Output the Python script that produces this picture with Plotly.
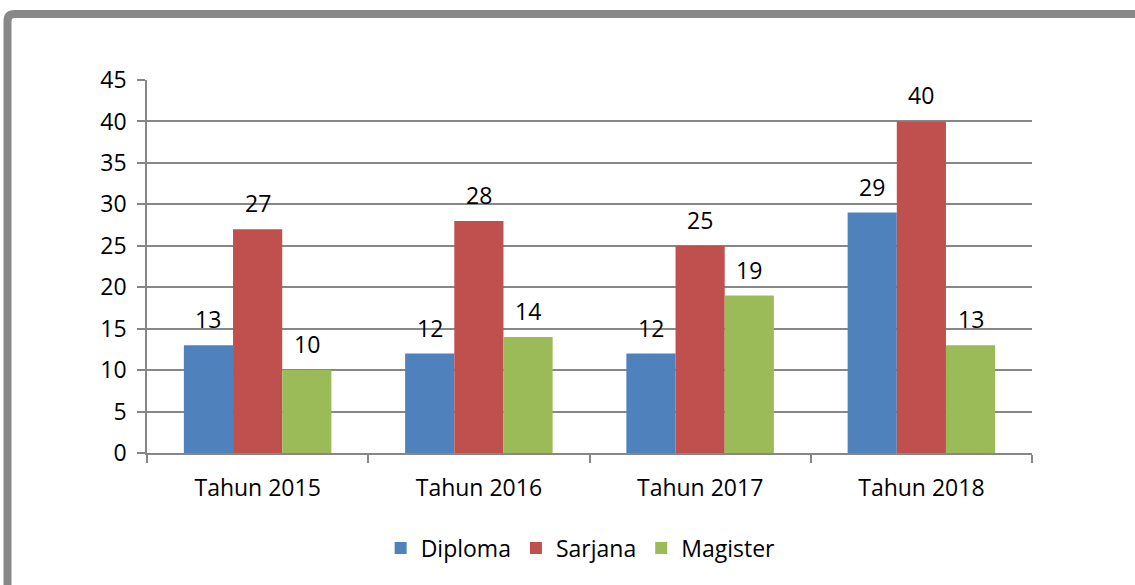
import plotly.graph_objects as go

categories = ["Tahun 2015", "Tahun 2016", "Tahun 2017", "Tahun 2018"]
diploma = [13, 12, 12, 29]
sarjana = [27, 28, 25, 40]
magister = [10, 14, 19, 13]
y_ticks = [0, 5, 10, 15, 20, 25, 30, 35, 40, 45]

series = [
    ("Diploma", diploma, "#4F81BD"),
    ("Sarjana", sarjana, "#C0504D"),
    ("Magister", magister, "#9BBB59"),
]

FONT = "Open Sans, Lato, sans-serif"
FS = 23
GRID = "#878787"
BARGAP = 1 / 3

fig = go.Figure()
n = len(series)
bar_w = (1 - BARGAP) / n
annotations = []
for i, (name, vals, col) in enumerate(series):
    fig.add_trace(go.Bar(
        name=name, x=categories, y=vals,
        marker=dict(color=col, line=dict(width=0)),
    ))
    offset = (i - (n - 1) / 2) * bar_w
    for j, v in enumerate(vals):
        annotations.append(dict(
            x=j + offset, y=v, xref="x", yref="y", text=str(v),
            showarrow=False, yanchor="bottom", xanchor="center", yshift=8,
            font=dict(family=FONT, size=FS, color="#000000"),
        ))

W, H = 1135, 585
L, R, T, B = 147, 103, 80, 132
pw, ph = W - L - R, H - T - B

def px(x):
    return (x - L) / pw

def py(y):
    return (H - B - y) / ph

xl, yt, r = 7.5, 14, 7
path = (f"M {px(xl)},{py(600)} L {px(xl)},{py(yt + r)} "
        f"Q {px(xl)},{py(yt)} {px(xl + r)},{py(yt)} L {px(1145)},{py(yt)}")

fig.update_layout(
    width=W, height=H,
    margin=dict(l=L, r=R, t=T, b=B),
    paper_bgcolor="white", plot_bgcolor="white",
    barmode="group", bargap=BARGAP, bargroupgap=0,
    font=dict(family=FONT, size=FS, color="#000000"),
    showlegend=True,
    legend=dict(orientation="h", x=0.49, xanchor="center", y=py(548), yanchor="middle",
                font=dict(family=FONT, size=FS), itemclick=False),
    annotations=annotations,
    shapes=[dict(type="path", path=path, xref="paper", yref="paper",
                 line=dict(color="#888888", width=8), layer="above")],
)
fig.update_xaxes(
    showline=True, linecolor=GRID, linewidth=1.5,
    ticks="outside", tickson="boundaries", ticklen=8, tickcolor=GRID, tickwidth=1.5,
    showgrid=False, tickfont=dict(family=FONT, size=FS), ticklabelstandoff=14,
)
fig.update_yaxes(
    range=[0, 45], tickvals=y_ticks,
    showline=True, linecolor=GRID, linewidth=1.5,
    ticks="outside", ticklen=8, tickcolor=GRID, tickwidth=1.5,
    showgrid=True, gridcolor=GRID, gridwidth=1.5, zeroline=False,
    tickfont=dict(family=FONT, size=FS), ticklabelstandoff=6,
)

fig.write_html("out.html", config={"displayModeBar": False},
               post_script="document.body.style.margin='0';document.body.style.overflow='hidden';")
